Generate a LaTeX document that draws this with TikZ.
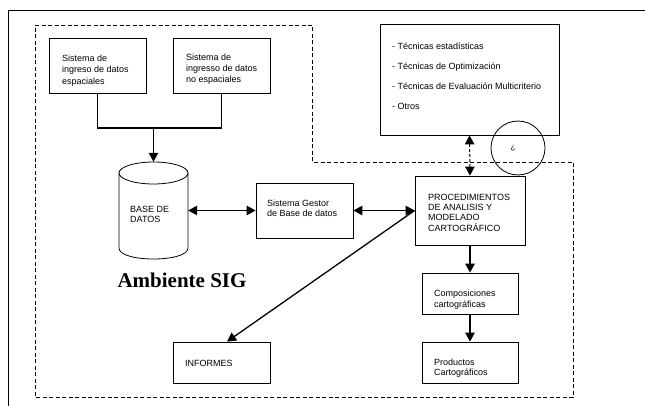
\documentclass[tikz,border=0pt]{standalone}
\usepackage{fontspec}
\setmainfont{Liberation Sans}
\newfontfamily\serifbold{Liberation Serif}
\usetikzlibrary{arrows.meta,calc}
\begin{document}
\begin{tikzpicture}[x=1pt,y=-1pt,
  box/.style={draw, line width=0.8pt, inner sep=0pt},
  txt/.style={inner sep=0pt, anchor=west, align=left},
  conn/.style={line width=1.3pt},
  tip/.tip={Triangle[length=9pt,width=9.5pt]},
  arr/.style={conn, -tip},
  darr/.style={conn, tip-tip},
  region/.style={line width=0.8pt, dash pattern=on 4pt off 2.5pt}
]
\useasboundingbox (0,0) rectangle (645,406);
% outer frame
\draw[line width=0.8pt] (8,406) -- (8,10) -- (645,10);
% dashed region
\draw[region] (35,25) -- (312,25) -- (312,162) -- (573,162) -- (573,397) -- (35,397) -- cycle;

% boxes
\node[box, minimum width=97pt, minimum height=55pt] (b1) at (97.5,65.5) {};
\node[box, minimum width=97pt, minimum height=55pt] (b2) at (221.5,65.5) {};
\node[box, minimum width=179pt, minimum height=111pt] (tr) at (469.5,79.5) {};
\node[box, minimum width=97pt, minimum height=55pt] (gestor) at (304.5,210.5) {};
\node[box, minimum width=110pt, minimum height=69pt] (proc) at (470,210.5) {};
\node[box, minimum width=96pt, minimum height=41pt] (comp) at (470,293.5) {};
\node[box, minimum width=96pt, minimum height=41pt] (prod) at (470,362.5) {};
\node[box, minimum width=97pt, minimum height=41pt] (inf) at (221.5,362.5) {};
% cylinder (attachment node + drawn shape)
\node[inner sep=0pt, minimum width=69pt, minimum height=97pt] (cyl) at (153.5,210.5) {};
\draw[line width=0.8pt] (153.5,173) ellipse [x radius=34.5, y radius=11];
\draw[line width=0.8pt] (119,173) -- (119,248) .. controls (119,262.67) and (188,262.67) .. (188,248) -- (188,173);
% circle
\node[draw, circle, line width=0.8pt, minimum size=54pt, inner sep=0pt, font=\fontsize{8}{8}\selectfont] (q) at (518,148) {\raisebox{2pt}{\hspace{-10pt}¿}};

% texts
\node[txt, font=\fontsize{9}{11.5}\selectfont] (t1) at (62,70.5) {Sistema de\\ingreso de datos\\espaciales};
\node[txt, font=\fontsize{9}{11}\selectfont] (t2) at (186,69.5) {Sistema de\\ingresso de datos\\no espaciales};
\node[txt, font=\fontsize{9}{20}\selectfont] (t3) at (392,76) {- Técnicas estadísticas\\- Técnicas de Optimización\\- Técnicas de Evaluación Multicriterio\\- Otros};
\node[txt, font=\fontsize{9}{10}\selectfont] (t4) at (130,214) {BASE DE\\DATOS};
\node[txt, font=\fontsize{9}{9.5}\selectfont] (t5) at (267,208.5) {Sistema Gestor\\de Base de datos};
\node[txt, font=\fontsize{9}{10.3}\selectfont] (t6) at (428,212.5) {PROCEDIMIENTOS\\DE ANALISIS Y\\MODELADO\\CARTOGRÁFICO};
\node[txt, font=\fontsize{9}{11}\selectfont] (t7) at (434,299.5) {Composiciones\\cartográficas};
\node[txt, font=\fontsize{9}{10.5}\selectfont] (t8) at (434,368) {Productos\\Cartográficos};
\node[txt, font=\fontsize{9}{11}\selectfont] (t9) at (185,363) {INFORMES};
\node[anchor=base, inner sep=0pt, font=\serifbold\bfseries\fontsize{21}{21}\selectfont] (sig) at (182,287) {Ambiente SIG};

% connectors
\coordinate (jn) at (153.5,128);
\draw[conn] (b1.south) |- (jn) -| (b2.south);
\draw[arr] (jn) -- (cyl.north);
\draw[darr] (cyl.east) -- (gestor.west);
\draw[darr] (gestor.east) -- (proc.west);
\draw[arr] (proc.west) -- ($(inf.north)+(5.5,0)$);
\draw[line width=1pt, dash pattern=on 3pt off 2pt, tip-tip] (tr.south) -- (proc.north);
\draw[arr] (proc.south) -- (comp.north);
\draw[arr] (comp.south) -- (prod.north);
\end{tikzpicture}
\end{document}
